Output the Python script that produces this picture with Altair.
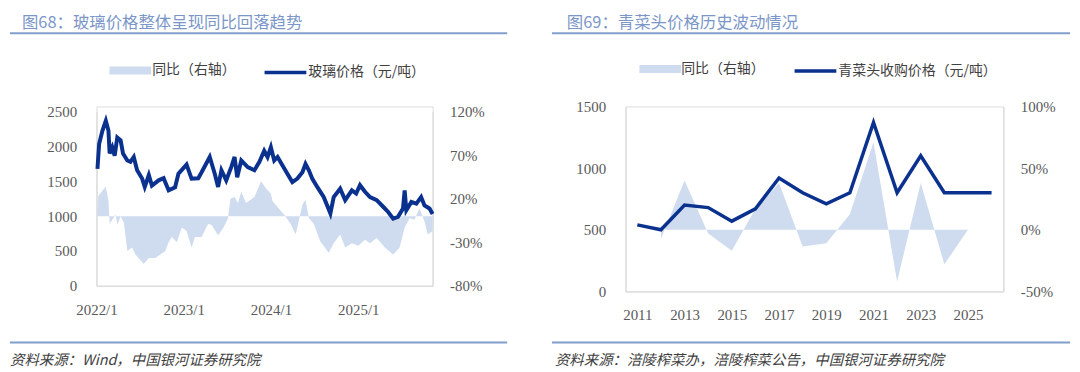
import altair as alt
import pandas as pd

# ---------------- Panel 1: glass price (元/吨) and YoY (%) ----------------
glass_dates = [
    "2022-01-05", "2022-01-12", "2022-01-26", "2022-02-09", "2022-02-20", "2022-02-25",
    "2022-03-08", "2022-03-18", "2022-03-29", "2022-04-12", "2022-04-22", "2022-05-10",
    "2022-05-23", "2022-06-06", "2022-06-20", "2022-07-11", "2022-07-22", "2022-08-08",
    "2022-08-21", "2022-09-18", "2022-10-09", "2022-10-30", "2022-11-26", "2022-12-10",
    "2023-01-13", "2023-02-03", "2023-03-03", "2023-03-17", "2023-04-20", "2023-05-11",
    "2023-05-25", "2023-06-08", "2023-06-28", "2023-07-19", "2023-08-02", "2023-08-13",
    "2023-08-30", "2023-09-26", "2023-10-24", "2023-11-14", "2023-12-04", "2023-12-18",
    "2024-01-01", "2024-01-15", "2024-01-29", "2024-03-10", "2024-03-31", "2024-04-21",
    "2024-05-12", "2024-05-25", "2024-06-08", "2024-06-22", "2024-07-13", "2024-08-09",
    "2024-09-06", "2024-09-20", "2024-10-17", "2024-11-07", "2024-12-05", "2024-12-23",
    "2025-01-08", "2025-01-29", "2025-02-19", "2025-03-19", "2025-04-15", "2025-05-06",
    "2025-05-27", "2025-06-16", "2025-07-07", "2025-07-14", "2025-07-21", "2025-08-11",
    "2025-09-01", "2025-09-21", "2025-10-05", "2025-10-26", "2025-11-08",
]
glass_price = [
    1680, 2040, 2230, 2370, 2230, 1900, 1990, 1870, 2130, 2090, 1900, 1800,
    1780, 1850, 1660, 1540, 1420, 1590, 1440, 1515, 1545, 1370, 1415, 1610,
    1740, 1540, 1545, 1630, 1850, 1610, 1420, 1660, 1515, 1705, 1850, 1560,
    1800, 1705, 1660, 1780, 1940, 1850,
    1990, 1800, 1850, 1610, 1490, 1540, 1630, 1750, 1660, 1540, 1420, 1275,
    1040, 1275, 1395, 1230, 1370, 1325,
    1445, 1350, 1275, 1230, 1135, 1060, 965, 990, 1110, 1370, 1085, 1205,
    1180, 1275, 1155, 1110, 1030,
]
glass_yoy_dates = [
    "2022-01-03", "2022-01-08", "2022-02-09", "2022-02-20", "2022-02-25", "2022-03-22",
    "2022-03-29", "2022-04-12", "2022-04-26", "2022-05-10", "2022-05-30", "2022-06-13",
    "2022-07-18", "2022-08-08", "2022-09-04", "2022-09-25", "2022-10-16", "2022-10-30",
    "2022-11-12", "2022-12-03", "2022-12-24",
    "2023-01-13", "2023-02-03", "2023-02-17", "2023-03-17", "2023-04-13", "2023-04-27",
    "2023-05-25", "2023-06-15", "2023-07-05", "2023-07-16", "2023-08-02", "2023-08-16",
    "2023-08-30", "2023-09-19", "2023-10-24", "2023-11-21", "2023-12-11",
    "2024-01-01", "2024-01-08", "2024-02-25", "2024-03-24", "2024-04-14", "2024-05-12",
    "2024-05-25", "2024-06-08", "2024-06-29", "2024-07-26", "2024-08-30", "2024-09-20",
    "2024-10-17", "2024-11-07", "2024-12-05",
    "2025-01-01", "2025-01-29", "2025-02-19", "2025-03-19", "2025-04-22", "2025-05-27",
    "2025-06-23", "2025-07-14", "2025-08-04", "2025-08-24", "2025-09-14", "2025-10-05",
    "2025-10-19", "2025-11-08",
]
glass_yoy = [
    -10, 23, 34, 18, -9, 2, -10, 0, -8, -40, -36, -44, -55, -48, -48, -44, -40, -30,
    -24, -30, -13,
    -17, -36, -24, -24, -9, -10, -22, -14, -3, 20, 22, 15, 28, 15, 22, 40, 32,
    26, 17, 2, -9, -21, 13, 19, -2, -9, -29, -42, -31, -21, -36, -31,
    -34, -27, -31, -25, -36, -44, -36, -13, -2, -4, 9, -6, -21, -17,
]
glass_x_labels = [2022, 2023, 2024, 2025]

# ---------------- Panel 2: 青菜头 purchase price (元/吨) and YoY (%) ----------------
veg_years = ["2011", "2012", "2013", "2014", "2015", "2016", "2017", "2018",
             "2019", "2020", "2021", "2022", "2023", "2024", "2025", "2026"]
veg_price = [540, 500, 700, 680, 570, 670, 920, 800, 710, 800, 1370, 800, 1100, 800, 800, 800]
veg_yoy_years = ["2012", "2013", "2014", "2015", "2016", "2017", "2018", "2019",
                 "2020", "2021", "2022", "2023", "2024", "2025", "2026"]
veg_yoy = [-7.5, 40, -3, -17, 17, 38, -13.5, -11, 12.5, 71, -42, 38, -28, 0, 0]
veg_x_labels = ["2011", "2013", "2015", "2017", "2019", "2021", "2023", "2025"]

# ---------------- styles ----------------
AREA = "#cfdcef"
LINE = "#0b318f"
AXC = "#d9d9d9"
LAB = "#595959"
TITLE_C = "#7b97c8"
RULE_C = "#829ecb"
SRC_C = "#404040"
SERIF = "Liberation Serif"
CJK = "Noto Sans CJK SC"
RECT_SYM = "M-1,-0.19H1V0.19H-1Z"

one = pd.DataFrame({"k": [0]})


def text_layer(txt, x, y, size, color, italic=False):
    return alt.Chart(one).mark_text(
        align="left", baseline="middle", fontSize=size, color=color, font=CJK,
        fontStyle="italic" if italic else "normal",
    ).encode(x=alt.value(x), y=alt.value(y), text=alt.value(txt))


def rule_layer(x1, x2, y):
    return alt.Chart(one).mark_rule(color=RULE_C, strokeWidth=2).encode(
        x=alt.value(x1), x2=alt.value(x2), y=alt.value(y))


def yaxis(orient, values, pad, expr=None):
    kw = dict(orient=orient, values=values, title=None, grid=False, ticks=False, tickSize=0,
              domainColor=AXC, labelFont=SERIF, labelFontSize=15, labelColor=LAB,
              labelPadding=pad, format="d")
    if expr:
        kw["labelExpr"] = expr
    return alt.Axis(**kw)


def legend(x, y, sym, sw, off):
    return alt.Legend(title=None, orient="none", legendX=x, legendY=y, direction="horizontal",
                      symbolType=sym, symbolSize=1764, symbolStrokeWidth=sw, symbolOpacity=1,
                      labelFont=CJK, labelFontSize=14, labelColor=SRC_C, labelOffset=off,
                      padding=0)


# Both panels share the same group top (page y ~105.7); the left panel's
# scales are drawn inside a sub-range so its plot spans 111..286.
LH = 180.3
L_RANGE = [LH, 5.3]
TITLE_Y = -83.45

# ---------------- left panel ----------------
df_gp = pd.DataFrame({"date": glass_dates, "price": glass_price})
df_gy = pd.DataFrame({"date": glass_yoy_dates, "yoy": glass_yoy})

xL = alt.X(
    "date:T",
    scale=alt.Scale(domain=[alt.DateTime(year=2022, month=1, date=1),
                            alt.DateTime(year=2025, month=11, date=8)]),
    axis=alt.Axis(title=None, format="%Y/%-m", grid=False, ticks=False, tickSize=0,
                  values=[alt.DateTime(year=y, month=1, date=1) for y in glass_x_labels],
                  domainColor=AXC, labelFont=SERIF, labelFontSize=15, labelColor=LAB,
                  labelPadding=17, labelFlush=False),
)

area_L = alt.Chart(df_gy).mark_area(opacity=1).transform_calculate(
    s="'同比（右轴）'"
).encode(
    x=xL,
    y=alt.Y("yoy:Q", scale=alt.Scale(domain=[-80, 120], nice=False, zero=False, range=L_RANGE),
            axis=yaxis("right", [-80, -30, 20, 70, 120], 17, "datum.value + '%'")),
    y2=alt.datum(0),
    fill=alt.Fill("s:N", scale=alt.Scale(range=[AREA]),
                  legend=legend(13, -57.2, RECT_SYM, 0, 1)),
)
line_L = alt.Chart(df_gp).mark_line(strokeWidth=4).transform_calculate(
    s="'玻璃价格（元/吨）'"
).encode(
    x=xL,
    y=alt.Y("price:Q", scale=alt.Scale(domain=[0, 2500], nice=False, range=L_RANGE),
            axis=yaxis("left", [0, 500, 1000, 1500, 2000, 2500], 20)),
    stroke=alt.Stroke("s:N", scale=alt.Scale(range=[LINE]),
                      legend=legend(167, -57.2, "stroke", 3.5, 0)),
)

left = alt.layer(
    area_L, line_L,
    text_layer("图68：玻璃价格整体呈现同比回落趋势", -75, TITLE_Y, 16.5, TITLE_C),
    rule_layer(-87, 413, -73.7),
    rule_layer(-87, 413, 237.3),
    text_layer("资料来源：Wind，中国银河证券研究院", -87, 256.3, 14.5, SRC_C, italic=True),
).resolve_scale(y="independent").properties(width=338, height=LH)

# ---------------- right panel ----------------
df_vp = pd.DataFrame({"year": veg_years, "price": veg_price})
df_vy = pd.DataFrame({"year": veg_yoy_years, "yoy": veg_yoy})

xR = alt.X(
    "year:O",
    scale=alt.Scale(domain=veg_years),
    axis=alt.Axis(title=None, values=veg_x_labels, labelAngle=0, grid=False, ticks=False,
                  tickSize=0, domainColor=AXC, labelFont=SERIF, labelFontSize=15,
                  labelColor=LAB, labelPadding=16),
)

area_R = alt.Chart(df_vy).mark_area(opacity=1).transform_calculate(
    s="'同比（右轴）'"
).encode(
    x=xR,
    y=alt.Y("yoy:Q", scale=alt.Scale(domain=[-50, 100], nice=False, zero=False),
            axis=yaxis("right", [-50, 0, 50, 100], 17, "datum.value + '%'")),
    y2=alt.datum(0),
    fill=alt.Fill("s:N", scale=alt.Scale(range=[AREA]),
                  legend=legend(14, -58.7, RECT_SYM, 0, 0)),
)
line_R = alt.Chart(df_vp).mark_line(strokeWidth=3.5).transform_calculate(
    s="'青菜头收购价格（元/吨）'"
).encode(
    x=xR,
    y=alt.Y("price:Q", scale=alt.Scale(domain=[0, 1500], nice=False),
            axis=yaxis("left", [0, 500, 1000, 1500], 20)),
    stroke=alt.Stroke("s:N", scale=alt.Scale(range=[LINE]),
                      legend=legend(168, -58.7, "stroke", 3.5, 0)),
)

right = alt.layer(
    area_R, line_R,
    text_layer("图69：青菜头价格历史波动情况", -59, TITLE_Y, 16.5, TITLE_C),
    rule_layer(-74, 447, -73.7),
    rule_layer(-74, 447, 237.3),
    text_layer("资料来源：涪陵榨菜办，涪陵榨菜公告，中国银河证券研究院", -71, 256.3, 14.5, SRC_C,
               italic=True),
).resolve_scale(y="independent").properties(width=380, height=186)

chart = alt.hconcat(left, right, spacing=41).resolve_scale(
    fill="independent", stroke="independent"
).resolve_legend(
    fill="independent", stroke="independent"
).properties(
    padding={"top": 6, "left": 0, "right": 0, "bottom": 4}
).configure_view(stroke=None).configure(background="white")

chart.save("out.html", embed_options={"renderer": "svg", "actions": False})
